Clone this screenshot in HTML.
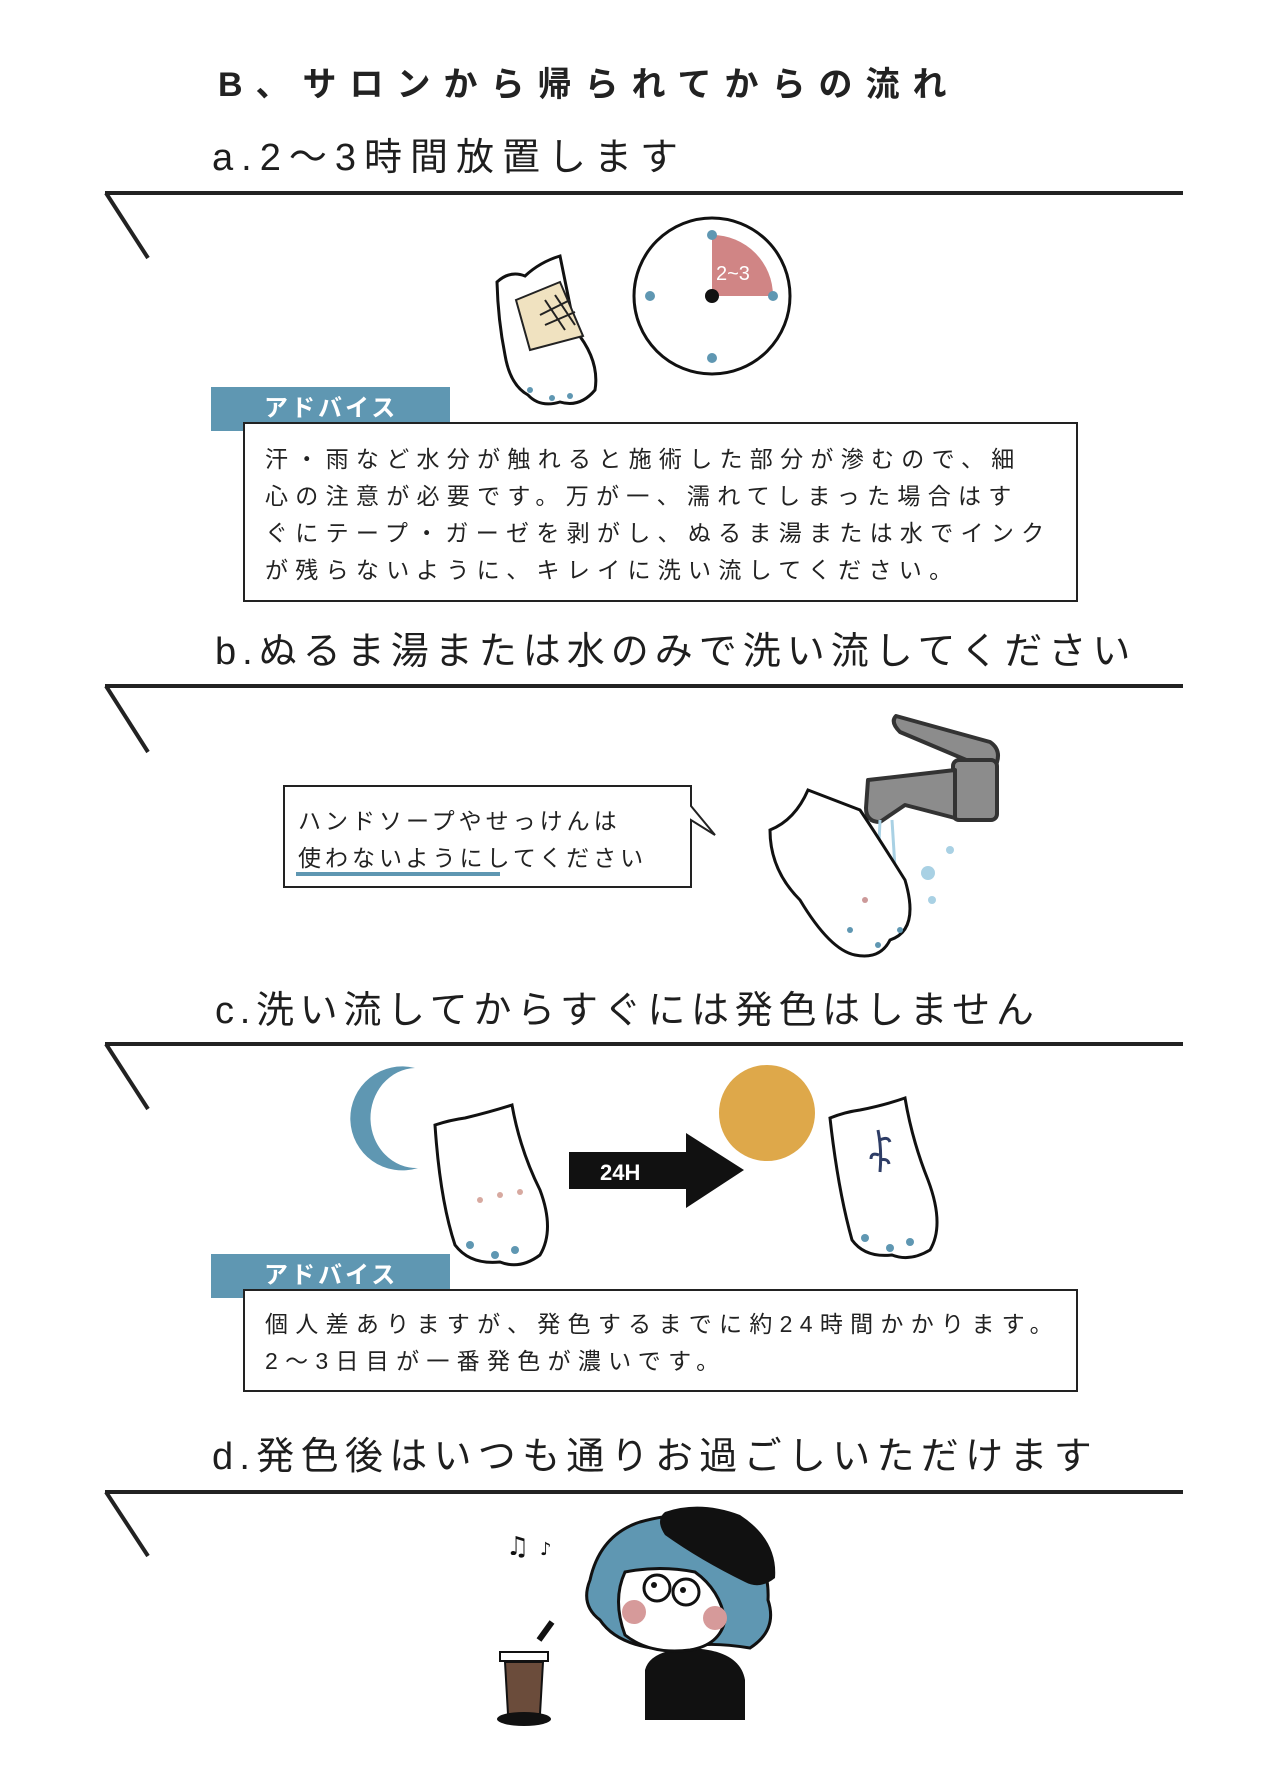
<!DOCTYPE html>
<html><head><meta charset="utf-8">
<style>
body{margin:0;width:1275px;height:1789px;background:#fff;position:relative;overflow:hidden;font-family:"Liberation Sans","Noto Sans CJK JP",sans-serif;color:#222}
.t{position:absolute;white-space:nowrap;line-height:1}
.h{font-size:38px;letter-spacing:5px;color:#1e1e1e}
.tab{position:absolute;left:211px;width:239px;height:44px;background:#5f97b2;color:#fff;font-size:24px;line-height:44px;padding-left:53px;box-sizing:border-box;letter-spacing:3px;font-weight:bold}
.box{position:absolute;left:243px;width:835px;border:2px solid #222;box-sizing:border-box;background:#fff}
.bt{position:absolute;left:20px;font-size:23px;letter-spacing:7.3px;line-height:37px;white-space:nowrap}
svg{position:absolute;left:0;top:0}
</style></head><body>
<svg width="1275" height="1789">
<g stroke="#222" stroke-width="4" fill="none">
<line x1="105" y1="193" x2="1183" y2="193"/><line x1="106" y1="193" x2="148" y2="258"/>
<line x1="105" y1="686" x2="1183" y2="686"/><line x1="106" y1="686" x2="148" y2="752"/>
<line x1="105" y1="1044" x2="1183" y2="1044"/><line x1="106" y1="1044" x2="148" y2="1109"/>
<line x1="105" y1="1492" x2="1183" y2="1492"/><line x1="106" y1="1492" x2="148" y2="1556"/>
</g>
<!-- clock -->
<circle cx="712" cy="296" r="78" fill="#fff" stroke="#111" stroke-width="3"/>
<path d="M712 296 L712 235 A61 61 0 0 1 773 296 Z" fill="#d08585"/>
<text x="716" y="280" font-size="20" fill="#fff" font-family="Liberation Sans">2~3</text>
<circle cx="712" cy="235" r="5" fill="#5f97b2"/><circle cx="773" cy="296" r="5" fill="#5f97b2"/>
<circle cx="650" cy="296" r="5" fill="#5f97b2"/><circle cx="712" cy="358" r="5" fill="#5f97b2"/>
<circle cx="712" cy="296" r="7" fill="#111"/>
<!-- hand a -->
<g stroke="#111" stroke-width="3" fill="#fff">
<path d="M497 282 Q510 270 525 276 Q540 262 560 256 L575 330 Q600 360 595 390 Q580 408 560 402 Q540 408 528 395 Q510 385 505 355 Q498 320 497 282 Z"/>
</g>
<path d="M516 300 L560 282 L583 336 L530 350 Z" fill="#f0e2c0" stroke="#222" stroke-width="2"/>
<path d="M545 300 L565 330 M555 295 L575 325 M540 315 L570 300 M545 325 L575 312" stroke="#222" stroke-width="2"/>
<circle cx="530" cy="390" r="3" fill="#5f97b2"/><circle cx="552" cy="398" r="3" fill="#5f97b2"/><circle cx="570" cy="396" r="3" fill="#5f97b2"/>
<!-- speech bubble -->
<path d="M284 786 L691 786 L691 806 L715 835 L691 820 L691 887 L284 887 Z" fill="#fff" stroke="#222" stroke-width="2"/>
<line x1="296" y1="874" x2="500" y2="874" stroke="#5f97b2" stroke-width="4"/>
<!-- faucet -->
<g fill="#8c8c8c" stroke="#333" stroke-width="4" stroke-linejoin="round">
<path d="M896 716 L990 742 Q1002 750 996 765 L990 770 L900 732 Q890 722 896 716 Z"/>
<rect x="953" y="760" width="44" height="60" rx="6"/>
<path d="M868 780 L955 770 L955 818 L905 805 L880 822 Q866 822 866 808 Z"/>
</g>
<g fill="#a9d1e4"><circle cx="846" cy="828" r="6"/><circle cx="928" cy="873" r="7"/><circle cx="932" cy="900" r="4"/><circle cx="840" cy="805" r="3"/><circle cx="950" cy="850" r="4"/></g>
<path d="M868 820 L862 860 M880 820 L878 868 M892 820 L895 868" stroke="#a9d1e4" stroke-width="3"/>
<!-- hand b -->
<path d="M808 790 Q795 820 770 830 Q770 870 800 900 Q830 950 855 955 Q880 960 890 940 Q920 930 905 880 Q880 840 860 810 Z" fill="#fff" stroke="#111" stroke-width="3"/>
<circle cx="865" cy="900" r="3" fill="#c99"/><circle cx="850" cy="930" r="3" fill="#5f97b2"/><circle cx="878" cy="945" r="3" fill="#5f97b2"/><circle cx="900" cy="930" r="3" fill="#5f97b2"/>
<!-- moon -->
<path d="M415 1068 A52 52 0 1 0 418 1168 A46 50 0 0 1 415 1068 Z" fill="#5f97b2"/>
<!-- hand c1 -->
<path d="M435 1125 Q450 1120 465 1118 Q490 1112 512 1105 Q520 1150 540 1190 Q555 1230 540 1255 Q520 1270 500 1262 Q470 1265 455 1245 Q440 1200 435 1125 Z" fill="#fff" stroke="#111" stroke-width="3"/>
<g fill="#5f97b2"><circle cx="470" cy="1245" r="4"/><circle cx="495" cy="1255" r="4"/><circle cx="515" cy="1250" r="4"/></g>
<g fill="#d7a9a0"><circle cx="480" cy="1200" r="3"/><circle cx="500" cy="1195" r="3"/><circle cx="520" cy="1192" r="3"/></g>
<!-- arrow -->
<path d="M569 1152 L686 1152 L686 1133 L744 1170 L686 1208 L686 1189 L569 1189 Z" fill="#111"/>
<text x="600" y="1180" font-size="22" font-weight="bold" fill="#fff" font-family="Liberation Sans">24H</text>
<!-- sun -->
<circle cx="767" cy="1113" r="48" fill="#dea84a"/>
<!-- hand c2 -->
<path d="M830 1118 Q845 1112 860 1110 Q885 1105 905 1098 Q912 1140 928 1180 Q945 1225 930 1250 Q910 1262 892 1255 Q865 1258 852 1240 Q838 1190 830 1118 Z" fill="#fff" stroke="#111" stroke-width="3"/>
<path d="M878 1130 Q882 1150 880 1172 M880 1140 q8 -4 10 2 M879 1155 q-8 -3 -8 4 M880 1160 q8 -2 9 4" stroke="#2e3d66" stroke-width="3" fill="none"/>
<g fill="#5f97b2"><circle cx="865" cy="1238" r="4"/><circle cx="890" cy="1248" r="4"/><circle cx="910" cy="1242" r="4"/></g>
<!-- notes -->
<text x="506" y="1555" font-size="26" fill="#111" font-family="DejaVu Sans">♫</text>
<text x="540" y="1555" font-size="18" fill="#111" font-family="DejaVu Sans">♪</text>
<!-- girl -->
<path d="M645 1720 L645 1670 Q650 1650 690 1648 Q740 1650 745 1680 L745 1720 Z" fill="#111"/>
<path d="M590 1580 Q600 1535 640 1522 Q700 1505 740 1530 Q770 1560 768 1600 Q778 1630 750 1648 Q700 1640 680 1650 Q620 1650 600 1620 Q580 1605 590 1580 Z" fill="#5f97b2" stroke="#111" stroke-width="3"/>
<path d="M625 1572 Q660 1565 695 1572 Q720 1590 725 1620 Q720 1645 690 1650 Q650 1655 625 1635 Q612 1600 625 1572 Z" fill="#fff" stroke="#111" stroke-width="3"/>
<path d="M665 1512 Q700 1500 740 1515 Q778 1540 775 1578 Q760 1590 745 1582 Q700 1560 665 1535 Q655 1520 665 1512 Z" fill="#111"/>
<circle cx="657" cy="1588" r="13" fill="none" stroke="#111" stroke-width="3"/><circle cx="686" cy="1592" r="13" fill="none" stroke="#111" stroke-width="3"/>
<circle cx="654" cy="1585" r="3" fill="#111"/><circle cx="683" cy="1590" r="3" fill="#111"/>
<circle cx="634" cy="1612" r="12" fill="#d69a9a"/><circle cx="715" cy="1618" r="12" fill="#d69a9a"/>
<!-- cup -->
<path d="M539 1640 L552 1622" stroke="#111" stroke-width="6"/>
<rect x="500" y="1652" width="48" height="9" fill="#fff" stroke="#111" stroke-width="2"/>
<path d="M505 1662 L543 1662 L540 1714 L508 1714 Z" fill="#6b4c3b" stroke="#111" stroke-width="2"/>
<ellipse cx="524" cy="1719" rx="27" ry="7" fill="#111"/>
</svg>

<div class="t" style="left:218px;top:68px;font-size:34px;font-weight:bold;letter-spacing:13px">B、サロンから帰られてからの流れ</div>
<div class="t h" style="left:212px;top:139px;letter-spacing:8px">a.2～3時間放置します</div>
<div class="tab" style="top:387px">アドバイス</div>
<div class="box" style="top:422px;height:180px">
<div class="bt" style="top:17px">汗・雨など水分が触れると施術した部分が滲むので、細<br>心の注意が必要です。万が一、濡れてしまった場合はす<br>ぐにテープ・ガーゼを剥がし、ぬるま湯または水でインク<br>が残らないように、キレイに洗い流してください。</div>
</div>
<div class="t h" style="left:215px;top:633px;letter-spacing:6px">b.ぬるま湯または水のみで洗い流してください</div>
<div class="t" style="left:298px;top:803px;font-size:23px;letter-spacing:4px;line-height:37px">ハンドソープやせっけんは<br>使わないようにしてください</div>
<div class="t h" style="left:215px;top:992px;letter-spacing:5.7px">c.洗い流してからすぐには発色はしません</div>
<div class="tab" style="top:1254px">アドバイス</div>
<div class="box" style="top:1289px;height:103px">
<div class="bt" style="top:15px">個人差ありますが、発色するまでに約24時間かかります。<br>2～3日目が一番発色が濃いです。</div>
</div>
<div class="t h" style="left:212px;top:1438px;letter-spacing:6.3px">d.発色後はいつも通りお過ごしいただけます</div>
</body></html>
